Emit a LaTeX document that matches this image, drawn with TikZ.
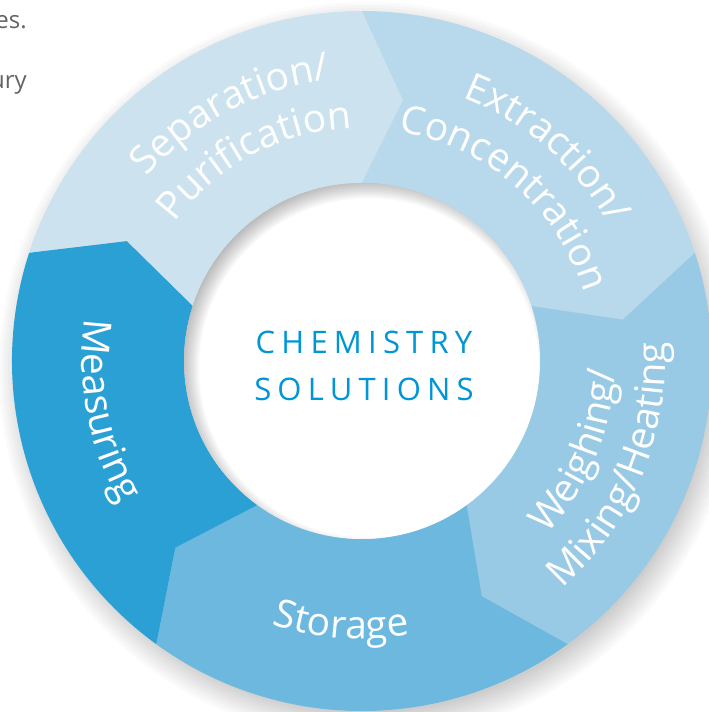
\documentclass[tikz,border=0pt]{standalone}
\usepackage{fontspec}
\setmainfont{Open Sans}
\newfontfamily\spacedfont[LetterSpace=20]{Open Sans}
\usetikzlibrary{decorations.text}
\definecolor{sepcol}{RGB}{204,226,239}
\definecolor{extcol}{RGB}{183,217,235}
\definecolor{weicol}{RGB}{152,202,230}
\definecolor{stocol}{RGB}{108,184,223}
\definecolor{meacol}{RGB}{42,160,213}
\definecolor{chemblue}{RGB}{0,150,214}
\definecolor{graytext}{RGB}{100,100,100}
\newcommand\segfont{\fontsize{39}{39}\selectfont\color{white}}
\newcommand\ringseg[3]{%
  \fill[#3] (#1:350) arc[start angle=#1, end angle=#2, radius=350]
    -- ({#2-9}:264) -- (#2:178) arc[start angle=#2, end angle=#1, radius=178]
    -- ({#1-9}:264) -- cycle;}
\begin{document}
\begin{tikzpicture}[x=1pt,y=1pt,
  ringtext/.style={decorate, decoration={text along path, text align=center, text={#1}}},
  sidetext/.style={anchor=base east, text=graytext, font=\fontsize{24}{24}\selectfont, inner sep=0pt},
  centertext/.style={anchor=base, text=chemblue, font=\spacedfont\fontsize{31}{31}\selectfont, inner sep=0pt}]
\useasboundingbox (0,0) rectangle (709,-712);
\clip (0,0) rectangle (709,-712);
\fill[white] (0,0) rectangle (709,-712);
\node[sidetext] (t1) at (27,-28) {es.};
\node[sidetext] (t2) at (27,-88) {ury};
\begin{scope}[shift={(362,-361)}]
  % outer shadow
  \foreach \k in {0,...,9} \fill[black, opacity=0.02] (6,-10) circle ({342+3*\k});
  % segments
  \ringseg{162}{90}{sepcol}
  \ringseg{90}{18}{extcol}
  \ringseg{18}{-54}{weicol}
  \ringseg{-54}{-126}{stocol}
  \ringseg{-126}{-198}{meacol}
  % inner circle
  \fill[white] (0,0) circle (178);
  \begin{scope}
    \clip (0,0) circle (178);
    \foreach \k in {0,...,8} \fill[black, opacity=0.03, even odd rule] (0,0) circle (200) (7,-7) circle ({186-2*\k});
  \end{scope}
  % labels on the ring
  \path[ringtext={|\segfont|Separation/}] (158:283) arc[start angle=158, end angle=78, radius=283];
  \path[ringtext={|\segfont|Purification}] (158:233) arc[start angle=158, end angle=78, radius=233];
  \path[ringtext={|\segfont|Extraction/}] (89:282) arc[start angle=89, end angle=9, radius=282];
  \path[ringtext={|\segfont|Concentration}] (89:232) arc[start angle=89, end angle=9, radius=232];
  \path[ringtext={|\segfont|Weighing/}] (-62.5:253) arc[start angle=-62.5, end angle=17.5, radius=253];
  \path[ringtext={|\segfont|Mixing/Heating}] (-62.5:303) arc[start angle=-62.5, end angle=17.5, radius=303];
  \path[ringtext={|\segfont|Storage}] (-134.5:278) arc[start angle=-134.5, end angle=-54.5, radius=278];
  \path[ringtext={|\segfont|Measuring}] (151:280) arc[start angle=151, end angle=231, radius=280];
  % centre
  \node[centertext] (c1) at (2,8) {CHEMISTRY};
  \node[centertext] (c2) at (2,-39) {SOLUTIONS};
\end{scope}
\end{tikzpicture}
\end{document}
